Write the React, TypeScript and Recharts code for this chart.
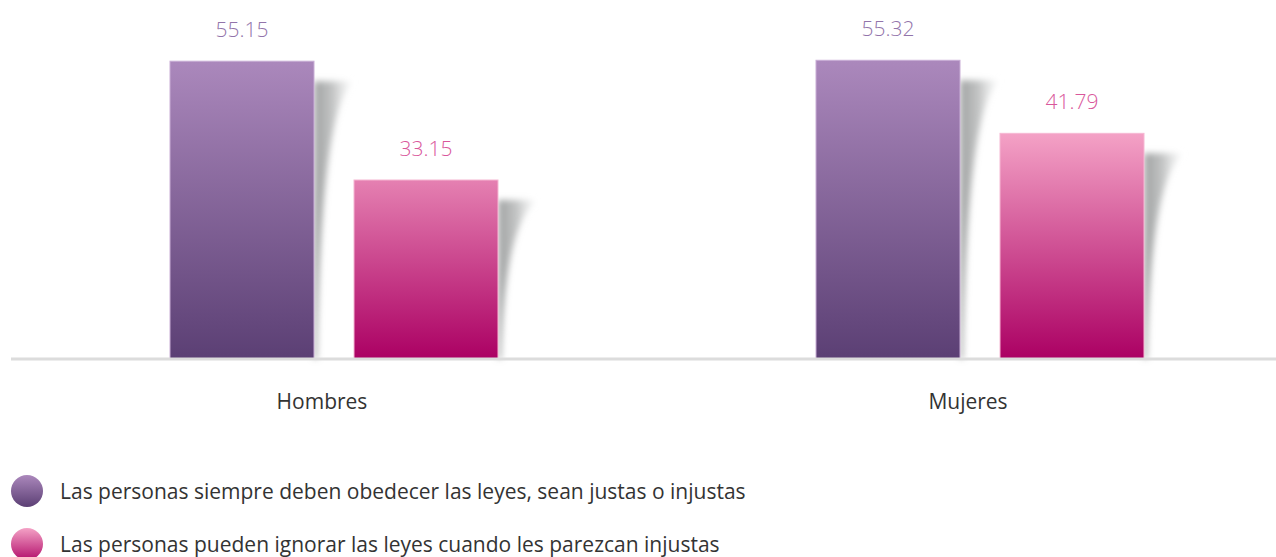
import { BarChart, Bar, XAxis, YAxis, LabelList } from "recharts";

const categories = ["Hombres", "Mujeres"];
const obedecer = [55.15, 55.32];
const ignorar = [33.15, 41.79];
const seriesNames = [
  "Las personas siempre deben obedecer las leyes, sean justas o injustas",
  "Las personas pueden ignorar las leyes cuando les parezcan injustas",
];

const data = categories.map((name, i) => ({
  name,
  obedecer: obedecer[i],
  ignorar: ignorar[i],
}));

const FONT = "'Open Sans', sans-serif";

// bar with the curled grey shadow on its right side
const ShadowBar = (props: any) => {
  const { x, y, width, height, fill, stroke } = props;
  if (!height || height <= 0) return null;
  const r = x + width;
  const t = y + 20;
  const b = y + height;
  const shadow = `M${r},${t} L${r + 41},${t} Q${r + 7},${t + 18} ${r + 3},${b} L${r},${b} Z`;
  return (
    <g>
      <path d={shadow} fill="url(#shadowGrad)" filter="url(#shadowBlur)" />
      <rect x={x} y={y} width={width} height={height} fill={fill} stroke={stroke} strokeWidth={1} />
    </g>
  );
};

const valueLabel = (color: string) => (props: any) => {
  const { x, y, width, value } = props;
  return (
    <text
      x={x + width / 2}
      y={y - 24}
      textAnchor="middle"
      fill={color}
      fontFamily={FONT}
      fontWeight={300}
      fontSize={21}
    >
      {value.toFixed(2)}
    </text>
  );
};

const CategoryTick = (props: any) => {
  const { x, y, payload } = props;
  return (
    <text
      x={x - 12}
      y={y + 42}
      textAnchor="middle"
      fill="#333"
      fontFamily={FONT}
      fontSize={21}
    >
      {payload.value}
    </text>
  );
};

const legendColors = [
  ["#ab88bc", "#5b3f74"],
  ["#f4a2c6", "#b3106c"],
];

export default function App() {
  return (
    <div
      style={{
        position: "fixed",
        left: 8,
        top: 8,
        width: 1268,
        height: 549,
        overflow: "hidden",
        fontFamily: FONT,
        background: "#fff",
      }}
    >
      <BarChart
        width={1296}
        height={430}
        data={data}
        margin={{ top: 27, right: 1, left: 3, bottom: 0 }}
        barCategoryGap={159}
        barGap={40}
      >
        <defs>
          <linearGradient id="purpleGrad" gradientUnits="userSpaceOnUse" x1="0" y1="53" x2="0" y2="351">
            <stop offset="0%" stopColor="#ab88bc" />
            <stop offset="100%" stopColor="#5b3f74" />
          </linearGradient>
          <linearGradient id="pinkGrad" gradientUnits="userSpaceOnUse" x1="0" y1="125" x2="0" y2="351">
            <stop offset="0%" stopColor="#f4a2c6" />
            <stop offset="100%" stopColor="#ab0063" />
          </linearGradient>
          <linearGradient id="shadowGrad" x1="0" y1="0" x2="1" y2="0">
            <stop offset="0%" stopColor="#9a9c9c" stopOpacity={0.95} />
            <stop offset="45%" stopColor="#aeb0b0" stopOpacity={0.75} />
            <stop offset="80%" stopColor="#d6d8d8" stopOpacity={0.4} />
            <stop offset="100%" stopColor="#ffffff" stopOpacity={0} />
          </linearGradient>
          <filter id="shadowBlur" x="-20%" y="-20%" width="140%" height="140%">
            <feGaussianBlur stdDeviation="3" />
          </filter>
        </defs>
        <XAxis
          dataKey="name"
          axisLine={{ stroke: "#dcdcdc", strokeWidth: 3 }}
          tickLine={false}
          tick={<CategoryTick />}
          height={79}
        />
        <YAxis hide domain={[0, 60]} />
        <Bar
          dataKey="obedecer"
          name={seriesNames[0]}
          fill="url(#purpleGrad)"
          stroke="#c9aed6"
          barSize={144}
          shape={<ShadowBar />}
          isAnimationActive={false}
        >
          <LabelList dataKey="obedecer" content={valueLabel("#9274aa")} />
        </Bar>
        <Bar
          dataKey="ignorar"
          name={seriesNames[1]}
          fill="url(#pinkGrad)"
          stroke="#f6b8d3"
          barSize={144}
          shape={<ShadowBar />}
          isAnimationActive={false}
        >
          <LabelList dataKey="ignorar" content={valueLabel("#d9579b")} />
        </Bar>
      </BarChart>
      <div style={{ position: "absolute", left: 3, top: 456 }}>
        {seriesNames.map((n, i) => (
          <div key={n} style={{ display: "flex", alignItems: "center", height: 53 }}>
            <div
              style={{
                width: 32,
                height: 32,
                borderRadius: "50%",
                background: `linear-gradient(${legendColors[i][0]}, ${legendColors[i][1]})`,
                marginRight: 17,
              }}
            />
            <span style={{ fontSize: 21, color: "#333", whiteSpace: "nowrap" }}>{n}</span>
          </div>
        ))}
      </div>
    </div>
  );
}
